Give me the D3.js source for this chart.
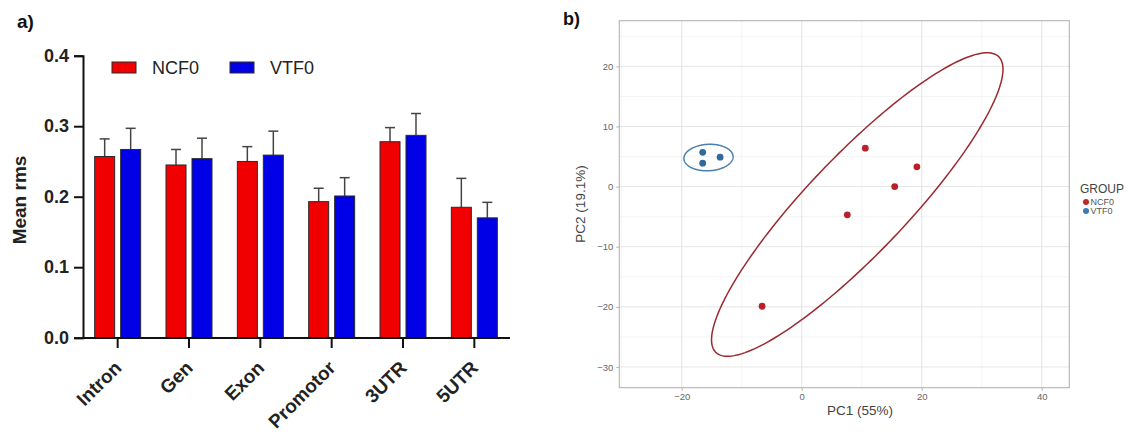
<!DOCTYPE html>
<html>
<head>
<meta charset="utf-8">
<script src="https://cdn.jsdelivr.net/npm/d3@7"></script>
<style>
  html, body { margin: 0; padding: 0; background: #fff; }
  svg { display: block; font-family: "Liberation Sans", Arial, sans-serif; }
</style>
</head>
<body>
<svg id="fig" width="1141" height="437"></svg>
<script>
// ---- Panel a: mean rms per genomic region ----
const categories = ["Intron", "Gen", "Exon", "Promotor", "3UTR", "5UTR"];
const series = ["NCF0", "VTF0"];
const ncfMean = [0.257, 0.245, 0.250, 0.193, 0.278, 0.185];
const ncfErr  = [0.025, 0.022, 0.021, 0.019, 0.020, 0.041];
const vtfMean = [0.267, 0.254, 0.259, 0.201, 0.287, 0.170];
const vtfErr  = [0.030, 0.029, 0.034, 0.026, 0.031, 0.022];
const rmsTicks = [0, 0.1, 0.2, 0.3, 0.4];

// ---- Panel b: PCA scores ----
const groups = ["NCF0", "VTF0"];
const ncfPC1 = [10.6, 19.2, 15.5, 7.6, -6.6];
const ncfPC2 = [6.4, 3.3, 0.0, -4.7, -19.9];
const vtfPC1 = [-16.5, -16.5, -13.6];
const vtfPC2 = [5.7, 3.9, 4.9];
const pc1Ticks = [-20, 0, 20, 40];
const pc2Ticks = [-30, -20, -10, 0, 10, 20];

const svg = d3.select("#fig");

// ================= Panel a =================
const barColor = { NCF0: "#f00000", VTF0: "#0000e6" };
const barRows = categories.map((c, i) => ({
  cat: c,
  vals: [
    { s: "NCF0", m: ncfMean[i], e: ncfErr[i] },
    { s: "VTF0", m: vtfMean[i], e: vtfErr[i] }
  ]
}));

const yA = d3.scaleLinear().domain([0, 0.4]).range([337.7, 55.7]);
const xA = d3.scaleBand().domain(categories).range([82, 510]);
const bw = xA.bandwidth();
const xIn = d3.scaleBand().domain(series).range([bw / 2 - 23, bw / 2 + 23]).paddingInner(0.23);

const gA = svg.append("g");

const grp = gA.selectAll("g.cat").data(barRows).join("g")
  .attr("class", "cat")
  .attr("transform", d => `translate(${xA(d.cat)},0)`);

// upper error whiskers
grp.selectAll("g.err").data(d => d.vals).join("g").attr("class", "err")
  .each(function (d) {
    const g = d3.select(this);
    const cx = xIn(d.s) + xIn.bandwidth() / 2;
    g.append("line").attr("x1", cx).attr("x2", cx)
      .attr("y1", yA(d.m)).attr("y2", yA(d.m + d.e))
      .attr("stroke", "#444").attr("stroke-width", 1.5);
    g.append("line").attr("x1", cx - 5).attr("x2", cx + 5)
      .attr("y1", yA(d.m + d.e)).attr("y2", yA(d.m + d.e))
      .attr("stroke", "#444").attr("stroke-width", 1.5);
  });

grp.selectAll("rect").data(d => d.vals).join("rect")
  .attr("x", d => xIn(d.s))
  .attr("width", xIn.bandwidth())
  .attr("y", d => yA(d.m))
  .attr("height", d => yA(0) - yA(d.m))
  .attr("fill", d => barColor[d.s])
  .attr("stroke", "#2a2a2a").attr("stroke-width", 1);

// y axis
const yAxisA = gA.append("g").attr("transform", "translate(83,0)")
  .call(d3.axisLeft(yA).tickValues(rmsTicks).tickFormat(d3.format(".1f")).tickSize(9).tickPadding(5));
yAxisA.select(".domain").attr("stroke", "#111").attr("stroke-width", 2);
yAxisA.selectAll(".tick line").attr("stroke", "#111").attr("stroke-width", 2);
yAxisA.selectAll(".tick text").attr("font-size", 18).attr("font-weight", "bold").attr("fill", "#222")
  .attr("font-family", "'Liberation Sans', Arial, sans-serif");

// x axis
const xAxisA = gA.append("g").attr("transform", "translate(0,338)")
  .call(d3.axisBottom(xA).tickSize(10).tickSizeOuter(0));
xAxisA.select(".domain").attr("stroke", "#111").attr("stroke-width", 2)
  .attr("d", "M83,0H510");
xAxisA.selectAll(".tick line").attr("stroke", "#111").attr("stroke-width", 2);
xAxisA.selectAll(".tick text")
  .attr("font-size", 19).attr("font-weight", "bold").attr("fill", "#222")
  .attr("font-family", "'Liberation Sans', Arial, sans-serif")
  .attr("text-anchor", "end")
  .attr("y", 0).attr("dy", 0)
  .attr("transform", "translate(5,31) rotate(-45)");

// y title
gA.append("text")
  .attr("transform", "translate(26,200) rotate(-90)")
  .attr("text-anchor", "middle")
  .attr("font-size", 19).attr("font-weight", "bold").attr("fill", "#222")
  .text("Mean rms");

// legend
const legA = gA.append("g").selectAll("g").data(series).join("g")
  .attr("transform", (d, i) => `translate(112,62) translate(${i * 118},0)`);
legA.append("rect").attr("width", 24).attr("height", 11)
  .attr("fill", d => barColor[d]).attr("stroke", "#2a2a2a").attr("stroke-width", 1);
legA.append("text").attr("x", 40).attr("y", 12)
  .attr("font-size", 18).attr("fill", "#222").text(d => d);

// panel tag
svg.append("text").attr("x", 17).attr("y", 28)
  .attr("font-size", 19).attr("font-weight", "bold").attr("fill", "#111").text("a)");

// ================= Panel b =================
const ptColor = { NCF0: "#b8202c", VTF0: "#2f6a9c" };
const lineColor = { NCF0: "#9a2a30", VTF0: "#4a80b0" };
const legendColor = { NCF0: "#c0272d", VTF0: "#3a7ab5" };

const xB = d3.scaleLinear().domain([-30.4, 44.6]).range([619.3, 1069.3]);
const yB = d3.scaleLinear().domain([-33.45, 27.6]).range([387.7, 20.7]);

const gB = svg.append("g");

// grid: minor then major
const minorX = d3.range(-30, 45, 10);
const minorY = d3.range(-25, 27, 10);
gB.append("g").selectAll("line").data(minorX).join("line")
  .attr("x1", d => xB(d)).attr("x2", d => xB(d)).attr("y1", yB.range()[0]).attr("y2", yB.range()[1])
  .attr("stroke", "#f1f1f1").attr("stroke-width", 0.8);
gB.append("g").selectAll("line").data(minorY).join("line")
  .attr("y1", d => yB(d)).attr("y2", d => yB(d)).attr("x1", xB.range()[0]).attr("x2", xB.range()[1])
  .attr("stroke", "#f1f1f1").attr("stroke-width", 0.8);
gB.append("g").selectAll("line").data(pc1Ticks).join("line")
  .attr("x1", d => xB(d)).attr("x2", d => xB(d)).attr("y1", yB.range()[0]).attr("y2", yB.range()[1])
  .attr("stroke", "#e6e6e6").attr("stroke-width", 1);
gB.append("g").selectAll("line").data(pc2Ticks).join("line")
  .attr("y1", d => yB(d)).attr("y2", d => yB(d)).attr("x1", xB.range()[0]).attr("x2", xB.range()[1])
  .attr("stroke", "#e6e6e6").attr("stroke-width", 1);

// scores per group
const pcaData = [
  { g: "NCF0", pts: ncfPC1.map((v, i) => [v, ncfPC2[i]]) },
  { g: "VTF0", pts: vtfPC1.map((v, i) => [v, vtfPC2[i]]) }
];

// 95% normal ellipse from the group covariance
function ellipsePath(pts) {
  const n = pts.length;
  const mx = d3.mean(pts, p => p[0]), my = d3.mean(pts, p => p[1]);
  let sxx = 0, syy = 0, sxy = 0;
  pts.forEach(p => {
    sxx += (p[0] - mx) ** 2; syy += (p[1] - my) ** 2; sxy += (p[0] - mx) * (p[1] - my);
  });
  sxx /= n - 1; syy /= n - 1; sxy /= n - 1;
  const a = Math.sqrt(sxx), b = sxy / a, c = Math.sqrt(Math.max(syy - b * b, 0));
  const r = Math.sqrt(5.991);
  return d3.range(0, 201).map(k => {
    const t = (k / 200) * 2 * Math.PI;
    return [mx + r * a * Math.cos(t), my + r * (b * Math.cos(t) + c * Math.sin(t))];
  });
}
const ellLine = d3.line().x(d => xB(d[0])).y(d => yB(d[1])).curve(d3.curveLinearClosed);

gB.append("g").selectAll("path").data(pcaData).join("path")
  .attr("d", d => ellLine(ellipsePath(d.pts)))
  .attr("fill", "none")
  .attr("stroke", d => lineColor[d.g]).attr("stroke-width", 1.5);

gB.append("g").selectAll("g").data(pcaData).join("g")
  .selectAll("circle").data(d => d.pts.map(p => ({ g: d.g, p }))).join("circle")
  .attr("cx", d => xB(d.p[0])).attr("cy", d => yB(d.p[1])).attr("r", 3.4)
  .attr("fill", d => ptColor[d.g]);

// panel border
gB.append("rect")
  .attr("x", xB.range()[0]).attr("y", yB.range()[1])
  .attr("width", xB.range()[1] - xB.range()[0]).attr("height", yB.range()[0] - yB.range()[1])
  .attr("fill", "none").attr("stroke", "#b3b3b3").attr("stroke-width", 1.1);

// axes
const xAxisB = gB.append("g").attr("transform", `translate(0,${yB.range()[0]})`)
  .call(d3.axisBottom(xB).tickValues(pc1Ticks).tickSize(3).tickPadding(3).tickFormat(d3.format("d")));
const yAxisB = gB.append("g").attr("transform", `translate(${xB.range()[0]},0)`)
  .call(d3.axisLeft(yB).tickValues(pc2Ticks).tickSize(3).tickPadding(3).tickFormat(d3.format("d")));
[xAxisB, yAxisB].forEach(ax => {
  ax.select(".domain").remove();
  ax.selectAll(".tick line").attr("stroke", "#b3b3b3");
  ax.selectAll(".tick text").attr("font-size", 9.5).attr("fill", "#666")
    .attr("font-family", "'Liberation Sans', Arial, sans-serif");
});

// axis titles
gB.append("text").attr("x", 860).attr("y", 415).attr("text-anchor", "middle")
  .attr("font-size", 13.5).attr("fill", "#444").text("PC1 (55%)");
gB.append("text").attr("transform", "translate(585,204) rotate(-90)").attr("text-anchor", "middle")
  .attr("font-size", 13.5).attr("fill", "#444").text("PC2 (19.1%)");

// legend
gB.append("text").attr("x", 1080).attr("y", 193).attr("font-size", 12).attr("fill", "#444").text("GROUP");
const legB = gB.append("g").selectAll("g").data(groups).join("g")
  .attr("transform", (d, i) => `translate(1086,${202 + i * 9})`);
legB.append("circle").attr("r", 3).attr("fill", d => legendColor[d]);
legB.append("text").attr("x", 4.5).attr("y", 3.3).attr("font-size", 9).attr("fill", "#555").text(d => d);

// panel tag
svg.append("text").attr("x", 563).attr("y", 25)
  .attr("font-size", 18).attr("font-weight", "bold").attr("fill", "#111").text("b)");
</script>
</body>
</html>
